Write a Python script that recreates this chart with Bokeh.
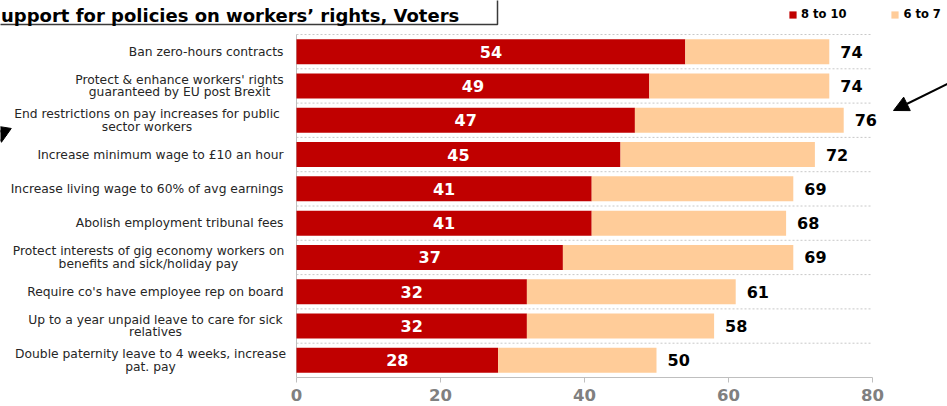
from bokeh.plotting import figure
from bokeh.models import (ColumnDataSource, Range1d, FixedTicker, Label,
                          Legend, LegendItem, Arrow, NormalHead, BoxAnnotation)
from bokeh.core.properties import value
from bokeh.embed import file_html
from bokeh.resources import INLINE

# ---------------- data ----------------
categories = [
    "Ban zero-hours contracts",
    "Protect & enhance workers' rights\nguaranteed by EU post Brexit",
    "End restrictions on pay increases for public\nsector workers",
    "Increase minimum wage to £10 an hour",
    "Increase living wage to 60% of avg earnings",
    "Abolish employment tribunal fees",
    "Protect interests of gig economy workers on\nbenefits and sick/holiday pay",
    "Require co's have employee rep on board",
    "Up to a year unpaid leave to care for sick\nrelatives",
    "Double paternity leave to 4 weeks, increase\npat. pay",
]
score_8_to_10 = [54, 49, 47, 45, 41, 41, 37, 32, 32, 28]
score_6_to_10 = [74, 74, 76, 72, 69, 68, 69, 61, 58, 50]
series_names = ["8 to 10", "6 to 7"]
x_ticks = [0, 20, 40, 60, 80]
title_text = "upport for policies on workers\u2019 rights, Voters"

# ---------------- layout (pixels on the canvas) ----------------
W, H = 947, 406
FL, FR, FT, FB = 296, 872, 34, 377      # plot area of the bars
XMAX = 80
NROWS = len(categories)
PXU = (FR - FL) / XMAX                 # px per x unit
PYU = (FB - FT) / NROWS                # px per row


def px2x(px):
    return (px - FL) / PXU


def py2y(py):
    return (FB - py) / PYU


def row_center(i):
    return NROWS - 1 - i + 0.5


RED = "#C00000"
PEACH = "#FFCC99"
FONT = "DejaVu Sans"

p = figure(width=W, height=H,
           x_range=Range1d(px2x(0), px2x(W)),
           y_range=Range1d(0, py2y(0)),
           output_backend="svg", toolbar_location=None,
           y_axis_location=None,
           min_border_left=0, min_border_right=0,
           min_border_top=0, min_border_bottom=H - FB,
           outline_line_color=None, background_fill_color="white",
           border_fill_color="white",
           styles={"position": "absolute", "left": "0px", "top": "0px"})
p.xgrid.visible = False
p.ygrid.visible = False

src = ColumnDataSource(dict(
    yc=[row_center(i) for i in range(NROWS)],
    v8=score_8_to_10,
    tot=score_6_to_10,
    mid=[v / 2 for v in score_8_to_10],
    lab8=[str(v) for v in score_8_to_10],
    labt=[str(v) for v in score_6_to_10],
))

# dashed separators between the categories and the left axis line
p.segment(x0=0, x1=XMAX, y0=list(range(1, NROWS + 1)), y1=list(range(1, NROWS + 1)),
          line_color="#C8C8C8", line_dash="2 2", line_width=1)
p.segment(x0=[0], x1=[0], y0=[0], y1=[NROWS], line_color="#BFBFBF", line_width=1)

r1 = p.hbar(y="yc", left=0, right="v8", height=0.73, fill_color=RED,
            line_color=None, source=src)
r2 = p.hbar(y="yc", left="v8", right="tot", height=0.73, fill_color=PEACH,
            line_color=None, source=src)

# bottom axis
ax = p.xaxis[0]
ax.ticker = FixedTicker(ticks=x_ticks)
ax.bounds = (0, XMAX)
ax.axis_line_color = "#BFBFBF"
ax.major_tick_line_color = "#BFBFBF"
ax.major_tick_out = 5
ax.major_tick_in = 0
ax.minor_tick_line_color = None
ax.major_label_standoff = 6
ax.major_label_text_font = FONT
ax.major_label_text_font_style = "bold"
ax.major_label_text_font_size = "16.5px"
ax.major_label_text_color = "#808080"

# value labels
p.text(x="mid", y="yc", text="lab8", source=src,
       text_align="center", text_baseline="middle",
       text_color="white", text_font=value(FONT), text_font_style="bold",
       text_font_size="16px")
p.text(x="tot", y="yc", text="labt", source=src, x_offset=11,
       text_align="left", text_baseline="middle",
       text_color="black", text_font=value(FONT), text_font_style="bold",
       text_font_size="16px")

# category labels (right-aligned block; two-line labels have centered lines)
two_line_centers = {1: 179, 2: 146.5, 6: 148, 8: 155, 9: 150}
LINE_GAP = 6.3
single = dict(x=[], y=[], t=[])
double = dict(x=[], y=[], t=[])
for i, cat in enumerate(categories):
    lines = cat.split("\n")
    if len(lines) == 1:
        single["x"].append(px2x(283))
        single["y"].append(row_center(i))
        single["t"].append(lines[0])
    else:
        cx = px2x(two_line_centers[i])
        for k, line in enumerate(lines):
            double["x"].append(cx)
            double["y"].append(row_center(i) + (LINE_GAP if k == 0 else -LINE_GAP) / PYU)
            double["t"].append(line)
lab_style = dict(text_baseline="middle", text_color="#262626",
                 text_font=value(FONT), text_font_size="12.3px")
p.text(x="x", y="y", text="t", source=ColumnDataSource(single), text_align="right", **lab_style)
p.text(x="x", y="y", text="t", source=ColumnDataSource(double), text_align="center", **lab_style)

# legend
legend = Legend(items=[LegendItem(label=series_names[0], renderers=[r1]),
                       LegendItem(label=series_names[1], renderers=[r2])],
                location=(788, FB - 21), orientation="horizontal",
                glyph_width=9, glyph_height=9, label_standoff=4, spacing=44,
                padding=0, margin=0, label_height=14,
                border_line_color=None, background_fill_alpha=0,
                label_text_font=FONT, label_text_font_style="bold",
                label_text_font_size="11.5px", label_text_color="black")
p.add_layout(legend)

# title box
p.add_layout(BoxAnnotation(left=px2x(-20), right=px2x(497), top=py2y(-20), bottom=py2y(24),
                           fill_color="white", fill_alpha=1,
                           line_color="#3A3A3A", line_alpha=1, line_width=1.5))
p.add_layout(Label(x=px2x(0.5), y=py2y(15), text=title_text,
                   text_align="left", text_baseline="alphabetic",
                   text_color="black", text_font=FONT, text_font_style="bold",
                   text_font_size="18px"))

# arrows
p.add_layout(Arrow(end=NormalHead(size=15, fill_color="black", line_color="black"),
                   x_start=px2x(950), y_start=py2y(82),
                   x_end=px2x(893), y_end=py2y(110),
                   line_color="black", line_width=2))
p.add_layout(Arrow(end=NormalHead(size=17, fill_color="black", line_color="black"),
                   x_start=px2x(6), y_start=py2y(135),
                   x_end=px2x(-8), y_end=py2y(125),
                   line_color="black", line_width=2))

open("out.html", "w").write(file_html(p, INLINE))
